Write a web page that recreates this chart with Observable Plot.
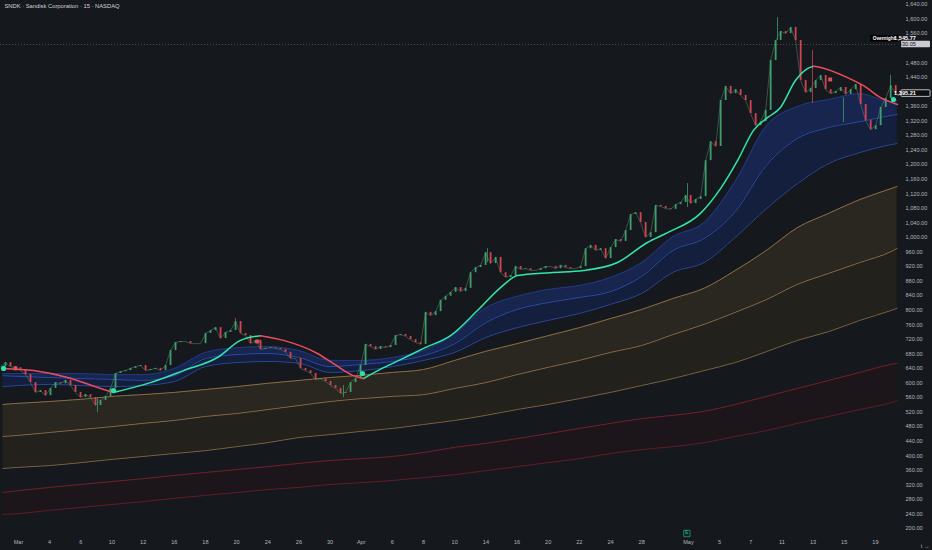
<!DOCTYPE html>
<html>
<head>
<meta charset="utf-8">
<script src="https://cdn.jsdelivr.net/npm/d3@7"></script>
<script src="https://cdn.jsdelivr.net/npm/@observablehq/plot@0.6"></script>
<style>
  html, body { margin: 0; padding: 0; background: #15181d; }
  #chart { width: 932px; height: 550px; overflow: hidden; }
</style>
</head>
<body>
<div id="chart"></div>
<script>
// ---------- tick labels ----------
const xTickT = [0,2,4,6,8,10,12,14,16,18,20,22,24,26,28,30,32,34,36,38,40,43,45,47,49,51,53,55];
const xTickLabels = ["Mar","4","6","10","12","16","18","20","24","26","30","Apr","6","8","10","14","16","20","22","24","28","May","5","7","11","13","15","19"];
const yTicks = [200,240,280,320,360,400,440,480,520,560,600,640,680,720,760,800,840,880,920,960,1000,1040,1080,1120,1160,1200,1240,1280,1320,1360,1440,1480,1560,1600,1640];

// ---------- envelope bands (trading-day index) ----------
const bandT   = [-1,0,2,4,6,8,10,12,14,16,18,20,22,24,26,28,30,32,34,36,38,40,42,44,46,48,50,52,54,56,56.4];
const redLo   = [239,241,250,258,266,274,283,291,299,307,313,321,326,332,340,348,359,370,381,392,406,417,425,436,453,469,489,508,527,546,552];
const redUp   = [299,304,313,321,329,337,346,354,362,370,379,387,392,398,409,423,434,447,461,475,489,502,511,522,541,563,585,607,629,651,654];
const tanBot  = [365,368,373,381,390,398,406,414,425,436,450,458,467,475,486,497,511,527,541,557,574,593,612,634,656,686,717,741,772,799,805];
const tanMid  = [453,456,464,472,480,489,497,508,516,527,538,549,557,563,568,585,601,623,643,662,684,703,733,761,794,829,871,901,931,961,970];
const tanTop  = [541,544,549,555,563,568,574,582,590,599,607,615,621,629,637,662,687,708,730,752,777,802,832,860,909,964,1027,1066,1104,1134,1140];
const blueBot = [590,593,596,593,590,593,604,645,656,659,654,629,634,645,662,684,725,752,772,791,816,846,904,931,1000,1079,1148,1203,1233,1255,1258];
const blueMid = [620,618,615,612,610,607,620,667,678,681,670,645,651,659,675,708,766,802,821,835,851,893,964,997,1071,1198,1272,1302,1318,1335,1338];
const blueTop = [626,626,626,626,623,623,640,684,697,700,689,662,662,670,689,736,807,838,857,868,890,931,1002,1041,1154,1307,1360,1379,1395,1373,1376];

// ---------- moving average ----------
const maT = [-1.03,0.96,3.15,5.26,6.10,8.47,10.59,12.77,14.25,15.53,17.01,19.19,20.22,21.50,22.14,23.43,24.52,26.0,27.73,29.46,30.94,32.03,34.15,36.26,38.45,40.37,41.66,43.77,45.06,46.15,47.18,48.07,48.91,49.87,50.64,51.03,51.48,53.21,54.24,55.33,56.42];
const maV = [640,634,615,585,574,601,634,670,717,730,717,681,653,620,612,642,664,695,730,799,862,895,903,909,931,986,1013,1066,1134,1211,1294,1329,1357,1431,1464,1470,1467,1439,1417,1384,1365];

// ---------- price (sampled closes) ----------
const priceT0 = -1.155, priceStep = 0.321;
const priceV = [
 645,656,645,642,634,623,601,574,579,565,
 585,601,598,607,593,574,560,568,560,538,
 552,563,585,626,631,634,640,645,648,634,
 637,640,634,648,689,711,714,714,708,708,
 708,736,744,752,722,739,744,769,736,730,
 708,717,692,695,697,695,692,684,667,667,
 640,634,626,609,612,604,593,585,571,574,
 601,612,648,706,700,692,700,697,703,730,
 733,728,719,711,706,794,785,796,827,838,
 849,862,851,860,903,917,923,958,928,945,
 903,890,895,920,912,914,909,909,914,920,
 920,914,923,917,914,914,920,969,978,964,
 969,942,972,994,989,1019,1063,1068,1041,1000,
 1013,1088,1085,1079,1077,1090,1096,1115,1093,1104,
 1112,1211,1263,1250,1376,1415,1395,1406,1390,1376,
 1340,1307,1318,1349,1486,1541,1566,1560,1577,1541,
 1431,1398,1409,1431,1445,1406,1395,1401,1412,1393,
 1406,1420,1365,1321,1296,1307,1357,1382,1417,1395
];
const wickT  = [5.07,13.93,20.86,30.10,42.94,48.72,50.96,52.95,55.97];
const wickHi = [557,777,593,970,1148,1604,1514,1384,1445];
const wickLo = [519,744,560,931,1082,1541,1368,1316,1382];
const wickUp = [1,0,1,1,1,1,0,1,1];

// ---------- signal markers ----------
const buyT  = [-0.96,6.10,22.08,56.16];
const buyV  = [640,579,626,1379];
const sellT = [-0.19,15.34,52.10];
const sellV = [640,714,1434];

// ---------- price tags ----------
const overnightVal = 1545.77;
const extVal = 1530.05;
const lastVal = 1395.21;
const earningsT = 42.9;
const title = "SNDK · Sandisk Corporation · 15 · NASDAQ";

// ---------- derived tables ----------
const bands = bandT.map((t,i)=>({t, redLo:redLo[i], redUp:redUp[i], tanBot:tanBot[i], tanMid:tanMid[i], tanTop:tanTop[i], blueBot:blueBot[i], blueMid:blueMid[i], blueTop:blueTop[i]}));
const ma = maT.map((t,i)=>({t, v:maV[i]}));
const runs = []; let cur = null;
for (let i=0;i<ma.length-1;i++){
  const dir = ma[i+1].v >= ma[i].v ? "up" : "down";
  if (!cur || cur.dir !== dir){ cur = {dir, pts:[ma[i]]}; runs.push(cur); }
  cur.pts.push(ma[i+1]);
}
const maSegs = runs.flatMap((r,k)=>r.pts.map(p=>({...p, seg:k, dir:r.dir})));
const candles = priceV.map((c,i)=>({t: priceT0 + i*priceStep, o: i ? priceV[i-1] : c, c}));
const wicks = wickT.map((t,i)=>({t, hi:wickHi[i], lo:wickLo[i], up:wickUp[i]}));

const curve = "monotone-x";
const FONT = "'Liberation Sans', Arial, sans-serif";
const fmt = d3.format(",.2f");

const plot = Plot.plot({
  width: 932, height: 550,
  marginLeft: 0, marginRight: 35, marginTop: 0, marginBottom: 15,
  style: {background: "#15181d", color: "#b2b5be", fontFamily: FONT, overflow: "visible"},
  x: {domain: [-1.155, 56.42], axis: null},
  y: {domain: [180.8, 1651], axis: null},
  marks: [
    // red envelope
    Plot.areaY(bands, {x:"t", y1:"redLo", y2:"redUp", fill:"#1c161a", curve}),
    Plot.line(bands, {x:"t", y:"redLo", stroke:"#641c27", strokeWidth:1, curve}),
    Plot.line(bands, {x:"t", y:"redUp", stroke:"#741f2b", strokeWidth:1, curve}),
    // tan envelope
    Plot.areaY(bands, {x:"t", y1:"tanMid", y2:"tanTop", fill:"#29271f", curve}),
    Plot.areaY(bands, {x:"t", y1:"tanBot", y2:"tanMid", fill:"#22211c", curve}),
    Plot.line(bands, {x:"t", y:"tanBot", stroke:"#7a6240", strokeWidth:1, curve}),
    Plot.line(bands, {x:"t", y:"tanMid", stroke:"#866a44", strokeWidth:1, curve}),
    Plot.line(bands, {x:"t", y:"tanTop", stroke:"#8a6d46", strokeWidth:1, curve}),
    // blue envelope
    Plot.areaY(bands, {x:"t", y1:"blueMid", y2:"blueTop", fill:"#18264f", curve}),
    Plot.areaY(bands, {x:"t", y1:"blueBot", y2:"blueMid", fill:"#141f3e", curve}),
    Plot.line(bands, {x:"t", y:"blueBot", stroke:"#27479c", strokeWidth:1, curve}),
    Plot.line(bands, {x:"t", y:"blueMid", stroke:"#294ba6", strokeWidth:1, curve}),
    Plot.line(bands, {x:"t", y:"blueTop", stroke:"#233f8c", strokeWidth:0.8, curve}),
    // extended-hours dotted line
    Plot.ruleY([extVal], {stroke:"#5d606b", strokeWidth:0.7, strokeDasharray:"1,2"}),
    // price
    Plot.line(candles, {x:"t", y:"c", stroke:"#5a7f68", strokeWidth:0.7, strokeOpacity:0.8}),
    Plot.ruleX(wicks.filter(d=>d.up), {x:"t", y1:"lo", y2:"hi", stroke:"#3f9f6c", strokeWidth:0.8}),
    Plot.ruleX(wicks.filter(d=>!d.up), {x:"t", y1:"lo", y2:"hi", stroke:"#d4434f", strokeWidth:0.8}),
    Plot.ruleX(candles.filter(d=>d.c>=d.o), {x:"t", y1:"o", y2:"c", stroke:"#3f9f6c", strokeWidth:1.8}),
    Plot.ruleX(candles.filter(d=>d.c<d.o), {x:"t", y1:"o", y2:"c", stroke:"#d4434f", strokeWidth:1.8}),
    // moving average, coloured by direction
    Plot.line(maSegs.filter(d=>d.dir==="up"), {x:"t", y:"v", z:"seg", stroke:"#33e6ad", strokeWidth:1.5, curve}),
    Plot.line(maSegs.filter(d=>d.dir==="down"), {x:"t", y:"v", z:"seg", stroke:"#ec4d5f", strokeWidth:1.5, curve}),
    // signals
    Plot.dot(buyT.map((t,i)=>({t, v:buyV[i]})), {x:"t", y:"v", r:2.6, fill:"#2fe0a8"}),
    Plot.dot(sellT.map((t,i)=>({t, v:sellV[i]})), {x:"t", y:"v", r:2.2, symbol:"square", fill:"#e0505f"}),
    // earnings badge
    Plot.dot([earningsT], {x:d=>d, frameAnchor:"bottom", dy:-2, symbol:"square", r:3.6, fill:"#10241f", stroke:"#1e8c6e", strokeWidth:0.9}),
    Plot.text([earningsT], {x:d=>d, frameAnchor:"bottom", dy:-2, text:()=>"E", fill:"#2bb58c", fontSize:4.5, fontWeight:"bold"}),
    // axes
    Plot.axisY(yTicks, {anchor:"right", tickSize:0, tickPadding:8, tickFormat:fmt, fill:"#b2b5be", fontSize:5.6, textAnchor:"start"}),
    Plot.axisX(xTickT, {anchor:"bottom", tickSize:0, tickPadding:5, tickFormat:d=>xTickLabels[xTickT.indexOf(d)], fill:"#b2b5be", fontSize:5.6}),
    // title
    Plot.text([title], {frameAnchor:"top-left", dx:4, dy:3, lineAnchor:"top", textAnchor:"start", fill:"#d1d4dc", fontSize:5.8, fontWeight:500})
  ]
});

document.getElementById("chart").appendChild(plot);

// ---------- right-hand price tags ----------
const yS = plot.scale("y");
const svg = d3.select(plot);
const g = svg.append("g").attr("font-family", FONT).attr("font-size", 5.6);
const right = 897;
function tag(v, {label, fill, stroke, textFill, weight}){
  const y = yS.apply(v);
  g.append("rect").attr("x", right+4).attr("y", y-3.3).attr("width", 29).attr("height", 6.6).attr("rx", 0.8)
    .attr("fill", fill).attr("stroke", stroke || "none").attr("stroke-width", 0.8);
  g.append("text").attr("x", right+8).attr("y", y).attr("dominant-baseline","central")
    .attr("fill", textFill).attr("font-weight", weight || "normal").text(label);
}
// overnight
{
  const y = yS.apply(overnightVal);
  g.append("rect").attr("x", right-27).attr("y", y-3.2).attr("width", 28).attr("height", 6.4).attr("fill", "#000");
  g.append("text").attr("x", right-13).attr("y", y).attr("text-anchor","middle").attr("dominant-baseline","central")
    .attr("font-size", 4.8).attr("fill","#fff").attr("font-weight","bold").text("Overnight");
  g.append("text").attr("x", right+8).attr("y", y).attr("dominant-baseline","central")
    .attr("fill","#fff").attr("font-weight","bold").text(fmt(overnightVal));
}
tag(extVal, {label: fmt(extVal), fill:"#c9cbd1", textFill:"#15181d"});
tag(lastVal, {label: fmt(lastVal), fill:"#0d0f12", stroke:"#e6e8ee", textFill:"#ffffff", weight:"bold"});
</script>
</body>
</html>
